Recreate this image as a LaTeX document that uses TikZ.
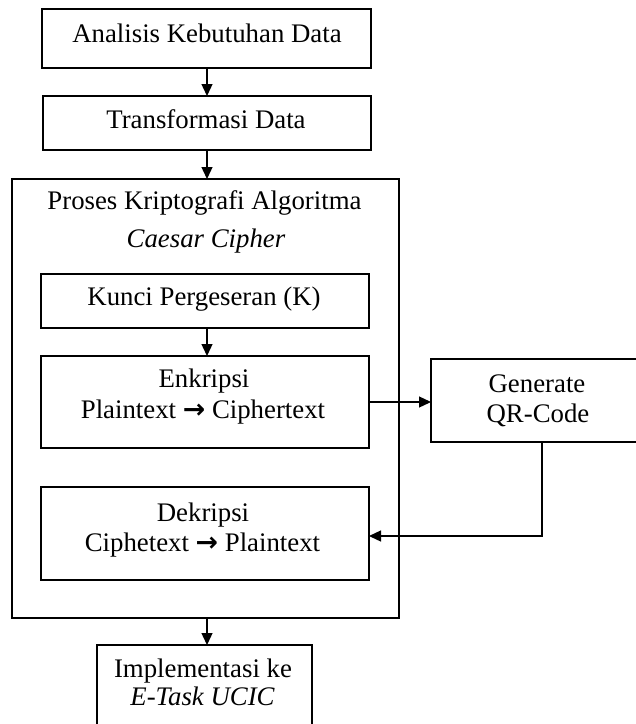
\documentclass[tikz,border=0pt]{standalone}
\usepackage{fontspec}
\setmainfont{Liberation Serif}
\newfontfamily\arrowfont{DejaVu Sans}
\usetikzlibrary{arrows.meta}
\newcommand{\rarr}{{\arrowfont\bfseries →}}
\begin{document}
\begin{tikzpicture}[x=1pt,y=-1pt,
  box/.style={draw, line width=1.3pt, inner sep=0pt, outer sep=0pt},
  txt/.style={inner sep=0pt, anchor=base, font=\fontsize{26.8}{31}\selectfont},
  arr/.style={line width=1.3pt, -{Triangle[width=11pt,length=12pt]}},
  ln/.style={line width=1.3pt}]
\useasboundingbox (0,0) rectangle (636,724);
\clip (0,0) rectangle (636,724);
\fill[white] (0,0) rectangle (636,724);
% boxes
\node[box, minimum width=329pt, minimum height=59pt] (a) at (206.5,38.5) {};
\node[box, minimum width=328pt, minimum height=54pt] (b) at (207,123) {};
\node[box, minimum width=387pt, minimum height=439pt] (proses) at (205.5,398.5) {};
\node[box, minimum width=328pt, minimum height=54pt] (kunci) at (205,301) {};
\node[box, minimum width=328pt, minimum height=92pt] (enk) at (205,402) {};
\node[box, minimum width=328pt, minimum height=93pt] (dek) at (205,533.5) {};
\node[box, minimum width=210pt, minimum height=83pt] (qr) at (536,400.5) {};
\node[box, minimum width=215pt, minimum height=90pt] (impl) at (204.5,690) {};
% texts
\node[txt] (ta) at (207,42) {Analisis Kebutuhan Data};
\node[txt] (tb) at (206,128) {Transformasi Data};
\node[txt] (tp1) at (204.5,209) {Proses Kriptografi Algoritma};
\node[txt] (tp2) at (206,247) {\itshape Caesar Cipher};
\node[txt] (tk) at (204,305) {Kunci Pergeseran (K)};
\node[txt] (te1) at (204,387) {Enkripsi};
\node[txt] (te2) at (203,418) {Plaintext \rarr\ Ciphertext};
\node[txt] (td1) at (203,521) {Dekripsi};
\node[txt] (td2) at (202.5,551) {Ciphetext \rarr\ Plaintext};
\node[txt] (tq1) at (537,392) {Generate};
\node[txt] (tq2) at (538,422) {QR-Code};
\node[txt] (ti1) at (203,677) {Implementasi ke};
\node[txt] (ti2) at (202.5,705) {\itshape E-Task UCIC};
% connectors
\draw[arr] ([xshift=0.5pt]a.south) -- ([xshift=0.5pt]a.south |- b.north);
\draw[arr] (b.south) -- (b.south |- proses.north);
\draw[arr] ([xshift=2pt]kunci.south) -- ([xshift=2pt]kunci.south |- enk.north);
\draw[arr] (enk.east) -- (enk.east -| qr.west);
\draw[arr] ([xshift=6pt]qr.south) |- ([yshift=-2.5pt]dek.east);
\draw[arr] ([xshift=1.5pt]proses.south) -- ([xshift=1.5pt]proses.south |- impl.north);
\end{tikzpicture}
\end{document}
